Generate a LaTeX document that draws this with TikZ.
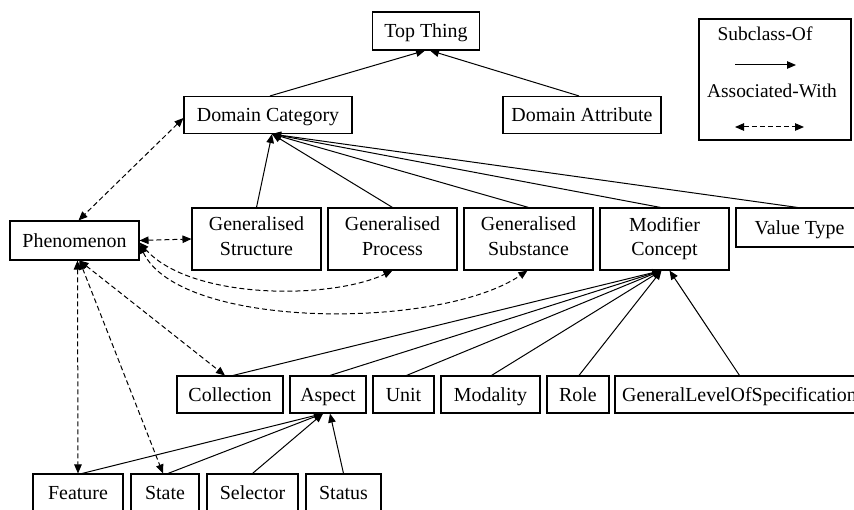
\documentclass[tikz,border=0pt]{standalone}
\usepackage{fontspec}
\setmainfont{Liberation Serif}
\usetikzlibrary{arrows.meta}
\newcommand\boxstrut{\rule[-5.5bp]{0pt}{25bp}}
\begin{document}
\begin{tikzpicture}[x=1bp,y=-1bp,
  box/.style={draw=black, line width=1.1bp, inner sep=0pt, align=center, font=\fontsize{20}{24.5}\selectfont, text=black,
    execute at begin node=\boxstrut, execute at end node=\boxstrut},
  sub/.style={line width=1bp, -{Triangle[length=9bp,width=7.5bp]}},
  assoc/.style={line width=1bp, dash pattern=on 5bp off 3bp, {Triangle[length=9bp,width=7.5bp]}-{Triangle[length=9bp,width=7.5bp]}},
  lbl/.style={inner sep=0pt, font=\fontsize{19.5}{24.5}\selectfont, execute at begin node=\boxstrut}
]
\useasboundingbox (0,0) rectangle (854,510);
\clip (0,0) rectangle (854,510);
\fill[white] (0,0) rectangle (854,510);

% top levels
\node[box, minimum width=107bp, minimum height=38bp] (top) at (426,31) {Top Thing};
\node[box, minimum width=168bp, minimum height=37bp] (dc) at (268,115) {Domain Category};
\node[box, minimum width=158bp, minimum height=37bp] (da) at (582,115) {Domain Attribute};

% legend
\node[box, minimum width=152bp, minimum height=121bp] (legend) at (775,79.5) {};
\node[lbl] (lt1) at (765,34) {Subclass-Of};
\node[lbl] (lt2) at (772,91) {Associated-With};
\coordinate (l1a) at (735,65); \coordinate (l1b) at (796,65);
\coordinate (l2a) at (735,127); \coordinate (l2b) at (804,127);
\draw[sub] (l1a) -- (l1b);
\draw[assoc] (l2a) -- (l2b);

% middle row
\node[box, minimum width=129bp, minimum height=39bp] (phen) at (74.5,240.5) {Phenomenon};
\node[box, minimum width=129bp, minimum height=62bp] (gs) at (256.5,239) {Generalised\\Structure};
\node[box, minimum width=129bp, minimum height=62bp] (gp) at (392.5,239) {Generalised\\Process};
\node[box, minimum width=129bp, minimum height=62bp] (gsub) at (528.5,239) {Generalised\\Substance};
\node[box, minimum width=129bp, minimum height=62bp] (mc) at (664.5,239) {Modifier\\Concept};
\node[box, minimum width=127bp, minimum height=39bp] (vt) at (799.5,227.5) {Value Type};

% second row
\node[box, minimum width=106bp, minimum height=37bp] (coll) at (230,394.5) {Collection};
\node[box, minimum width=76bp, minimum height=37bp] (asp) at (328,394.5) {Aspect};
\node[box, minimum width=61bp, minimum height=37bp] (unit) at (403.5,394.5) {Unit};
\node[box, minimum width=99bp, minimum height=37bp] (mod) at (490.5,394.5) {Modality};
\node[box, minimum width=62bp, minimum height=37bp] (role) at (578,394.5) {Role};
\node[box, minimum width=249bp, minimum height=37bp] (glos) at (739.5,394.5) {GeneralLevelOfSpecification};

% third row
\node[box, minimum width=90bp, minimum height=37bp] (feat) at (78,492.5) {Feature};
\node[box, minimum width=68bp, minimum height=37bp] (state) at (165,492.5) {State};
\node[box, minimum width=91bp, minimum height=37bp] (sel) at (252.5,492.5) {Selector};
\node[box, minimum width=75bp, minimum height=37bp] (stat) at (343.5,492.5) {Status};

% subclass-of
\draw[sub] ([xshift=2bp]dc.north) -- ([xshift=-1bp]top.south);
\draw[sub] ([xshift=-3bp]da.north) -- ([xshift=4bp]top.south);
\draw[sub] (gs.north) -- ([xshift=4bp]dc.south);
\draw[sub] (gp.north) -- ([xshift=4bp]dc.south);
\draw[sub] (gsub.north) -- ([xshift=4bp]dc.south);
\draw[sub] ([xshift=-4bp]mc.north) -- ([xshift=4bp]dc.south);
\draw[sub] ([xshift=-2bp]vt.north) -- ([xshift=4bp]dc.south);

\draw[sub] ([xshift=3bp]coll.north) -- ([xshift=-3bp]mc.south);
\draw[sub] ([xshift=2bp]asp.north) -- ([xshift=-3bp]mc.south);
\draw[sub] ([xshift=3bp]unit.north) -- ([xshift=-3bp]mc.south);
\draw[sub] ([xshift=1bp]mod.north) -- ([xshift=-3bp]mc.south);
\draw[sub] ([xshift=1bp]role.north) -- ([xshift=-3bp]mc.south);
\draw[sub] (glos.north) -- ([xshift=5bp]mc.south);

\draw[sub] ([xshift=4bp]feat.north) -- ([xshift=-5bp]asp.south);
\draw[sub] ([xshift=3bp]state.north) -- ([xshift=-5bp]asp.south);
\draw[sub] (sel.north) -- ([xshift=-5bp]asp.south);
\draw[sub] (stat.north) -- ([xshift=2bp]asp.south);

% associated-with
\draw[assoc] ([yshift=-3bp]dc.west) -- ([xshift=4bp]phen.north);
\draw[assoc] ([yshift=0bp]phen.east) -- (gs.west);
\draw[assoc] ([yshift=-2bp]phen.east) .. controls (190,300) and (330,300) .. (gp.south);
\draw[assoc] ([yshift=-4bp]phen.east) .. controls (180,330) and (440,330) .. ([xshift=-1bp]gsub.south);
\draw[assoc] ([xshift=5bp]phen.south) -- ([xshift=-5bp]coll.north);
\draw[assoc] ([xshift=3bp]phen.south) -- (feat.north);
\draw[assoc] ([xshift=5bp]phen.south) -- ([xshift=-2bp]state.north);
\end{tikzpicture}
\end{document}
